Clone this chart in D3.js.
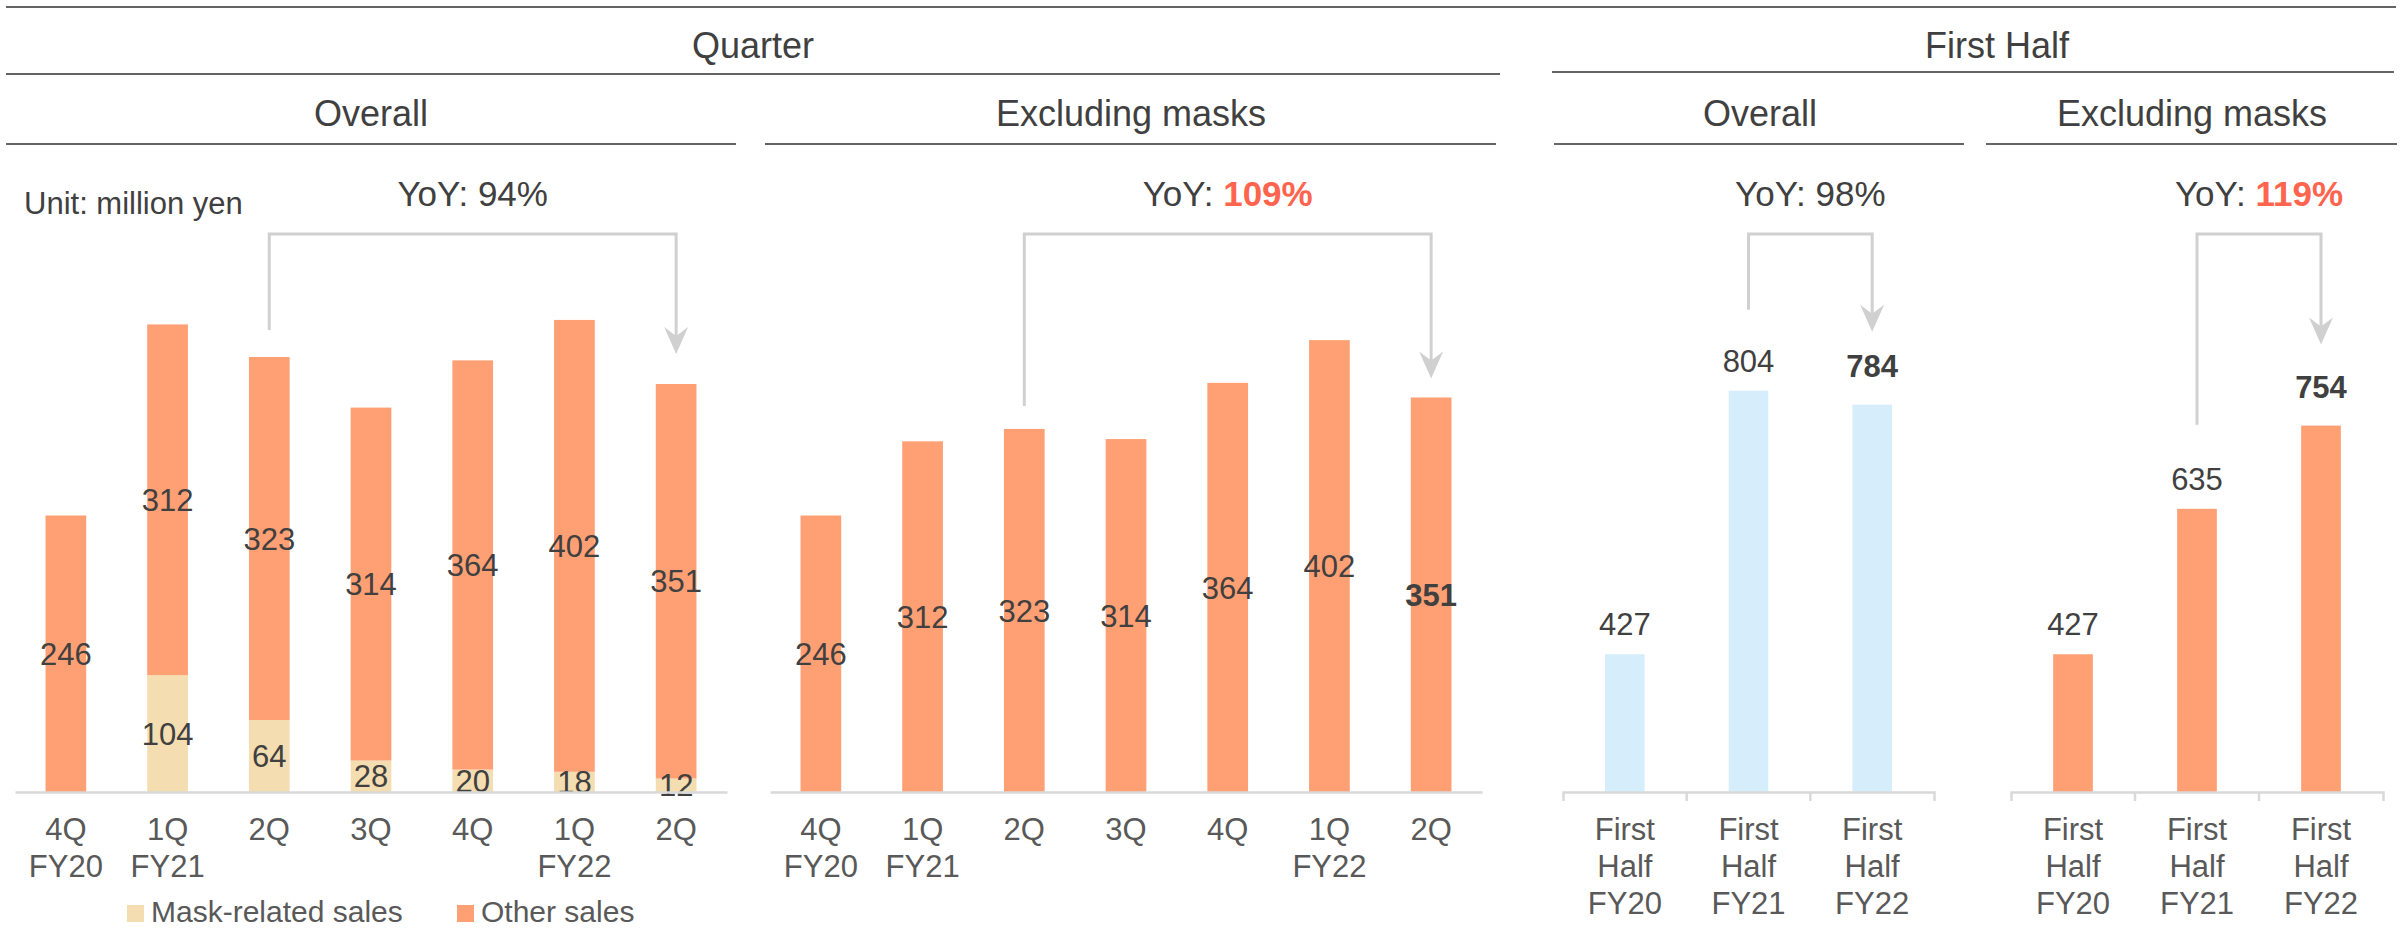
<!DOCTYPE html>
<html>
<head>
<meta charset="utf-8">
<script src="https://cdn.jsdelivr.net/npm/d3@7"></script>
<style>
  body { margin: 0; background: #fff; }
</style>
</head>
<body>
<script>
// data
const quarters = ['4Q', '1Q', '2Q', '3Q', '4Q', '1Q', '2Q']
const fiscalYears = ['FY20', 'FY21', '', '', '', 'FY22', '']
const maskSales = [0, 104, 64, 28, 20, 18, 12]
const otherSales = [246, 312, 323, 314, 364, 402, 351]
const halfYears = ['FY20', 'FY21', 'FY22']
const halfOverall = [427, 804, 784]
const halfExclMasks = [427, 635, 754]
const yoyValues = ['94%', '109%', '98%', '119%']

const W = 2405, H = 930
const FONT = "'Liberation Sans', Arial, sans-serif"
const ORANGE = '#ff9f74', BEIGE = '#f4ddb1', BLUE = '#d6edfc', RED = '#ff644e'
const TEXT = '#404040', AXIS_TEXT = '#595959', RULE = '#646464', AXIS = '#d9d9d9', ARROW = '#d0d0d0'
const BASE = 792
const BRACKET_TOP = 234

const svg = d3.select('body').append('svg')
  .attr('width', W)
  .attr('height', H)
  .style('font-family', FONT)

// header rules + titles
const rules = [
  { x1: 6, x2: 2396, y: 7 },
  { x1: 6, x2: 1500, y: 74 },
  { x1: 1552, x2: 2394, y: 72 },
  { x1: 6, x2: 736, y: 144 },
  { x1: 765, x2: 1496, y: 144 },
  { x1: 1554, x2: 1964, y: 144 },
  { x1: 1986, x2: 2397, y: 144 }
]
svg.selectAll('line.rule')
  .data(rules)
  .enter().append('line')
  .attr('class', 'rule')
  .attr('x1', d => d.x1).attr('x2', d => d.x2)
  .attr('y1', d => d.y).attr('y2', d => d.y)
  .attr('stroke', RULE)
  .attr('stroke-width', 2)

const headers = [
  { t: 'Quarter', x: 753, y: 58 },
  { t: 'First Half', x: 1997, y: 58 },
  { t: 'Overall', x: 371, y: 126 },
  { t: 'Excluding masks', x: 1131, y: 126 },
  { t: 'Overall', x: 1760, y: 126 },
  { t: 'Excluding masks', x: 2192, y: 126 }
]
svg.selectAll('text.header')
  .data(headers)
  .enter().append('text')
  .attr('class', 'header')
  .attr('x', d => d.x).attr('y', d => d.y)
  .attr('text-anchor', 'middle')
  .style('font-size', '36px')
  .style('fill', TEXT)
  .text(d => d.t)

svg.append('text')
  .attr('x', 24).attr('y', 214)
  .style('font-size', '31px')
  .style('fill', TEXT)
  .text('Unit: million yen')

// bracket with stealth arrow head
function bracket(g, xa, ya, xb, yb) {
  g.append('path')
    .attr('d', `M${xa},${ya}V${BRACKET_TOP}H${xb}V${yb - 16}`)
    .attr('fill', 'none')
    .attr('stroke', ARROW)
    .attr('stroke-width', 3)
  g.append('path')
    .attr('d', `M${xb},${yb}L${xb - 12},${yb - 27}L${xb},${yb - 18}L${xb + 12},${yb - 27}Z`)
    .attr('fill', ARROW)
}

function yoyLabel(g, cx, value, highlight) {
  const t = g.append('text')
    .attr('x', cx).attr('y', 206)
    .attr('text-anchor', 'middle')
    .style('font-size', '35px')
    .style('fill', TEXT)
  t.append('tspan').text('YoY: ')
  t.append('tspan')
    .style('fill', highlight ? RED : TEXT)
    .style('font-weight', highlight ? 'bold' : 'normal')
    .text(value)
}

const yQ = d3.scaleLinear().domain([0, 600]).range([BASE, BASE - 600 * 1.124])

// quarterly panels
function quarterPanel(x0, x1, stacked, gaps, yoy, highlight) {
  const g = svg.append('g')
  const x = d3.scaleBand()
    .domain(d3.range(quarters.length))
    .range([x0, x1])
    .paddingInner(0.6)
    .paddingOuter(0.3)
  const bw = x.bandwidth()

  const rows = quarters.map((q, i) => ({ i, mask: stacked ? maskSales[i] : 0, other: otherSales[i] }))
  const series = d3.stack().keys(['mask', 'other'])(rows)
  const colors = { mask: BEIGE, other: ORANGE }

  series.forEach(s => {
    g.selectAll(null)
      .data(s)
      .enter().append('rect')
      .attr('x', d => x(d.data.i))
      .attr('width', bw)
      .attr('y', d => yQ(d[1]))
      .attr('height', d => yQ(d[0]) - yQ(d[1]))
      .attr('fill', colors[s.key])
  })

  // value labels centred in segments
  series.forEach(s => {
    g.selectAll(null)
      .data(s.filter(d => d[1] - d[0] > 0))
      .enter().append('text')
      .attr('x', d => x(d.data.i) + bw / 2)
      .attr('y', d => yQ((d[0] + d[1]) / 2))
      .attr('dy', '0.36em')
      .attr('text-anchor', 'middle')
      .style('font-size', '31px')
      .style('fill', TEXT)
      .style('font-weight', d => (!stacked && s.key === 'other' && d.data.i === quarters.length - 1) ? 'bold' : 'normal')
      .text(d => d[1] - d[0])
  })

  const axis = g.append('g')
    .attr('transform', `translate(0,${BASE})`)
    .call(d3.axisBottom(x).tickSize(0).tickSizeOuter(0))
  axis.select('.domain').attr('stroke', AXIS).attr('stroke-width', 2.5)
  axis.selectAll('.tick text').remove()
  axis.selectAll('.tick').append('text')
    .attr('text-anchor', 'middle')
    .attr('fill', AXIS_TEXT)
    .style('font-size', '31px')
    .style('font-family', FONT)
    .each(function(i) {
      const t = d3.select(this)
      t.append('tspan').attr('x', 0).attr('y', 48).text(quarters[i])
      if (fiscalYears[i]) t.append('tspan').attr('x', 0).attr('y', 85).text(fiscalYears[i])
    })

  const total = i => rows[i].mask + rows[i].other
  const a = 2, b = 6
  const xa = x(a) + bw / 2, xb = x(b) + bw / 2
  bracket(g, xa, yQ(total(a)) - gaps[0], xb, yQ(total(b)) - gaps[1])
  yoyLabel(g, (xa + xb) / 2, yoy, highlight)
}

quarterPanel(15, 727, true, [27, 30], yoyValues[0], false)
quarterPanel(770, 1482, false, [23, 19], yoyValues[1], true)

// first-half panels
const yH = d3.scaleLinear().domain([230, 1000]).range([BASE, BASE - 770 * 0.6992])

function halfPanel(x0, x1, values, color, gaps, yoy, highlight) {
  const g = svg.append('g')
  const x = d3.scaleBand()
    .domain(d3.range(values.length))
    .range([x0, x1])
    .paddingInner(0.68)
    .paddingOuter(0.34)
  const bw = x.bandwidth()

  g.selectAll(null)
    .data(values)
    .enter().append('rect')
    .attr('x', (d, i) => x(i))
    .attr('width', bw)
    .attr('y', d => yH(d))
    .attr('height', d => BASE - yH(d))
    .attr('fill', color)

  const last = values.length - 1
  g.selectAll(null)
    .data(values)
    .enter().append('text')
    .attr('x', (d, i) => x(i) + bw / 2)
    .attr('y', (d, i) => yH(d) - (i === last ? 28 : 19))
    .attr('text-anchor', 'middle')
    .style('font-size', '31px')
    .style('fill', TEXT)
    .style('font-weight', (d, i) => i === last ? 'bold' : 'normal')
    .text(d => d)

  const axis = g.append('g')
    .attr('transform', `translate(0,${BASE})`)
    .call(d3.axisBottom(x).tickSize(0).tickSizeOuter(9))
  axis.select('.domain').attr('stroke', AXIS).attr('stroke-width', 2.5)
  // boundary ticks between categories
  axis.selectAll('line.sep')
    .data(d3.range(1, values.length))
    .enter().append('line')
    .attr('class', 'sep')
    .attr('x1', i => x(i) - x.step() * x.paddingInner() / 2)
    .attr('x2', i => x(i) - x.step() * x.paddingInner() / 2)
    .attr('y1', 0).attr('y2', 9)
    .attr('stroke', AXIS).attr('stroke-width', 2.5)
  axis.selectAll('.tick text').remove()
  axis.selectAll('.tick').append('text')
    .attr('text-anchor', 'middle')
    .attr('fill', AXIS_TEXT)
    .style('font-size', '31px')
    .style('font-family', FONT)
    .each(function(i) {
      const t = d3.select(this)
      t.append('tspan').attr('x', 0).attr('y', 48).text('First')
      t.append('tspan').attr('x', 0).attr('y', 85).text('Half')
      t.append('tspan').attr('x', 0).attr('y', 122).text(halfYears[i])
    })

  const xa = x(1) + bw / 2, xb = x(2) + bw / 2
  bracket(g, xa, yH(values[1]) - gaps[0], xb, yH(values[2]) - gaps[1])
  yoyLabel(g, (xa + xb) / 2, yoy, highlight)
}

halfPanel(1563, 1934, halfOverall, BLUE, [81, 73], yoyValues[2], false)
halfPanel(2011, 2383, halfExclMasks, ORANGE, [84, 81], yoyValues[3], true)

// legend
const legend = [
  { label: 'Mask-related sales', color: BEIGE, x: 127 },
  { label: 'Other sales', color: ORANGE, x: 457 }
]
const lg = svg.selectAll('g.legend')
  .data(legend)
  .enter().append('g')
  .attr('class', 'legend')
  .attr('transform', d => `translate(${d.x},0)`)
lg.append('rect')
  .attr('x', 0).attr('y', 905)
  .attr('width', 17).attr('height', 17)
  .attr('fill', d => d.color)
lg.append('text')
  .attr('x', 24).attr('y', 922)
  .style('font-size', '30px')
  .style('fill', AXIS_TEXT)
  .text(d => d.label)
</script>
</body>
</html>
